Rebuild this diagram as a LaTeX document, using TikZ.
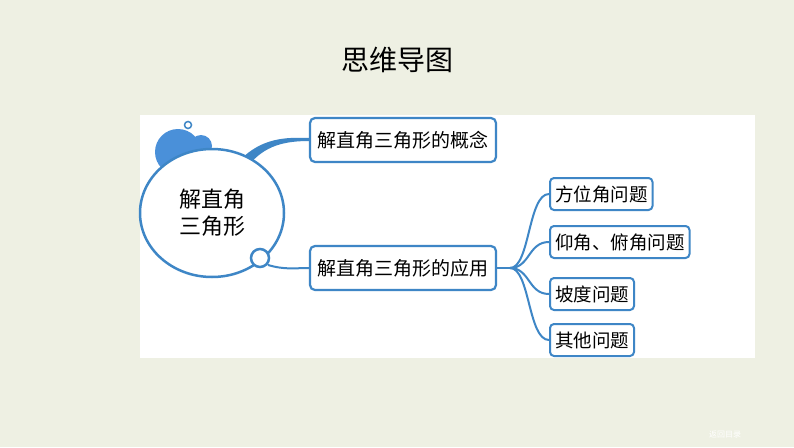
\documentclass[tikz,border=0pt]{standalone}
\usepackage{fontspec}
\usepackage{tikz}
\usetikzlibrary{shapes.geometric}
\setmainfont{Noto Sans CJK SC}
\definecolor{mapblue}{HTML}{3E86C6}
\definecolor{blobblue}{HTML}{4A90D9}
\definecolor{bggreen}{HTML}{EEF0E3}
\tikzset{
  topicbox/.style={draw=mapblue, line width=2.2pt, rounded corners=5pt, fill=white,
    minimum height=44pt, minimum width=186pt, font=\fontsize{19pt}{21pt}\selectfont},
  subbox/.style={draw=mapblue, line width=2pt, rounded corners=4pt, fill=white,
    minimum height=32pt, inner xsep=5pt, anchor=west, font=\fontsize{18.5pt}{20pt}\selectfont},
  branch/.style={draw=mapblue, line width=2pt}
}
\begin{document}
\begin{tikzpicture}[x=1pt,y=-1pt]
  \fill[bggreen] (0,0) rectangle (794,447);
  \useasboundingbox (0,0) rectangle (794,447);
  \fill[white] (140,115) rectangle (755,358);
  \node (title) at (397,60) {\fontsize{28pt}{30pt}\selectfont 思维导图};
  \node[text=white, font=\fontsize{8pt}{9pt}\selectfont] (back) at (725,435) {返回目录};

  % bubbles behind the main circle
  \fill[blobblue] (178,152) circle (23);
  \fill[blobblue] (201,146) circle (11);
  \draw[mapblue, line width=1.5pt, fill=white] (188,125) circle (3.5);

  % connectors to the topics
  \fill[mapblue] (240,160) .. controls (262,138) and (285,137) .. (310,138)
    -- (310,141) .. controls (285,141) and (265,145) .. (248,166) -- cycle;

  \node[draw=mapblue, line width=2.5pt, fill=white, ellipse, minimum width=144pt,
    minimum height=128pt, font=\fontsize{22pt}{27pt}\selectfont, align=center,
    inner sep=0pt] (root) at (212,213) {解直角\\三角形};
  \draw[mapblue, line width=2.5pt, fill=white] (260,258) circle (9);
  \coordinate (ring) at (268,265);

  \node[topicbox] (concept) at (403,140) {解直角三角形的概念};
  \node[topicbox] (apply) at (403,268) {解直角三角形的应用};

  \draw[branch] (ring) .. controls (285,270) and (295,268) .. (apply.west);

  \node[subbox] (dir) at (549,194) {方位角问题};
  \node[subbox] (elev) at (549,242) {仰角、俯角问题};
  \node[subbox] (slope) at (549,294) {坡度问题};
  \node[subbox] (other) at (549,340) {其他问题};

  \coordinate (fork) at (510,268);
  \draw[branch] (apply.east) -- (fork);
  \foreach \t in {dir,elev,slope,other}
    \draw[branch] (fork) .. controls (530,268) and (528,0 |- \t.west) .. (\t.west);
\end{tikzpicture}
\end{document}
